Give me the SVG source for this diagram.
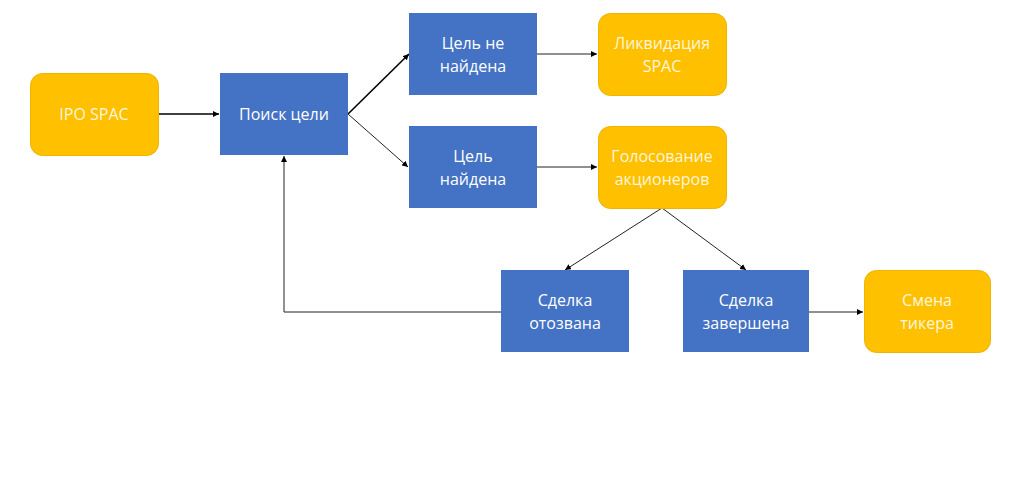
<svg xmlns="http://www.w3.org/2000/svg" width="1024" height="489" viewBox="0 0 1024 489">
<defs>
<marker id="ah" viewBox="0 0 10 10" refX="10" refY="5" markerWidth="6" markerHeight="6" orient="auto" markerUnits="userSpaceOnUse">
<path d="M0,0 L10,5 L0,10 z" fill="#000"/>
</marker>
<style>
.blue{fill:#4472C4;}
.yel{fill:#FFC000;stroke:#EDB400;stroke-width:1;}
.t{font-family:"Open Sans","Noto Sans","Liberation Sans",sans-serif;font-size:16px;fill:#fff;text-anchor:middle;}
.ty{fill:#FFF6DC;}
.c{fill:none;stroke:#222;stroke-width:1;marker-end:url(#ah);}
.c2{fill:none;stroke:#000;stroke-width:1.6;marker-end:url(#ah);}
</style>
</defs>
<rect width="1024" height="489" fill="#fff"/>
<g id="connectors">
<line class="c2" x1="158" y1="114" x2="219" y2="114"/>
<line class="c2" x1="348" y1="114" x2="409" y2="54"/>
<line class="c" x1="348" y1="114" x2="408" y2="167"/>
<line class="c" x1="537" y1="54" x2="597" y2="54"/>
<line class="c" x1="537" y1="167" x2="597" y2="167"/>
<line class="c" x1="662" y1="208" x2="565" y2="270"/>
<line class="c" x1="662" y1="208" x2="746" y2="270"/>
<polyline class="c" points="501,312 284,312 284,156"/>
<line class="c" x1="809" y1="312" x2="863" y2="312"/>
</g>
<g id="ipo"><rect class="yel" x="30.5" y="73.5" width="128" height="82" rx="12"/><text class="t ty" x="94" y="120">IPO SPAC</text></g>
<g id="poisk"><rect class="blue" x="220" y="73" width="128" height="82"/><text class="t" x="284" y="120">Поиск цели</text></g>
<g id="ne_naidena"><rect class="blue" x="409" y="13" width="128" height="82"/><text class="t" x="473" y="49">Цель не</text><text class="t" x="473" y="72">найдена</text></g>
<g id="likvid"><rect class="yel" x="598.5" y="13.5" width="128" height="82" rx="12"/><text class="t ty" x="662" y="49">Ликвидация</text><text class="t ty" x="662" y="72">SPAC</text></g>
<g id="naidena"><rect class="blue" x="409" y="126" width="128" height="82"/><text class="t" x="473" y="162">Цель</text><text class="t" x="473" y="185">найдена</text></g>
<g id="golos"><rect class="yel" x="598.5" y="126.5" width="128" height="82" rx="12"/><text class="t ty" x="662" y="162">Голосование</text><text class="t ty" x="662" y="185">акционеров</text></g>
<g id="otozvana"><rect class="blue" x="501" y="270" width="128" height="82"/><text class="t" x="565" y="306">Сделка</text><text class="t" x="565" y="329">отозвана</text></g>
<g id="zavershena"><rect class="blue" x="683" y="270" width="126" height="82"/><text class="t" x="746" y="306">Сделка</text><text class="t" x="746" y="329">завершена</text></g>
<g id="smena"><rect class="yel" x="864.5" y="270.5" width="126" height="82" rx="12"/><text class="t ty" x="927" y="306">Смена</text><text class="t ty" x="927" y="329">тикера</text></g>
</svg>
